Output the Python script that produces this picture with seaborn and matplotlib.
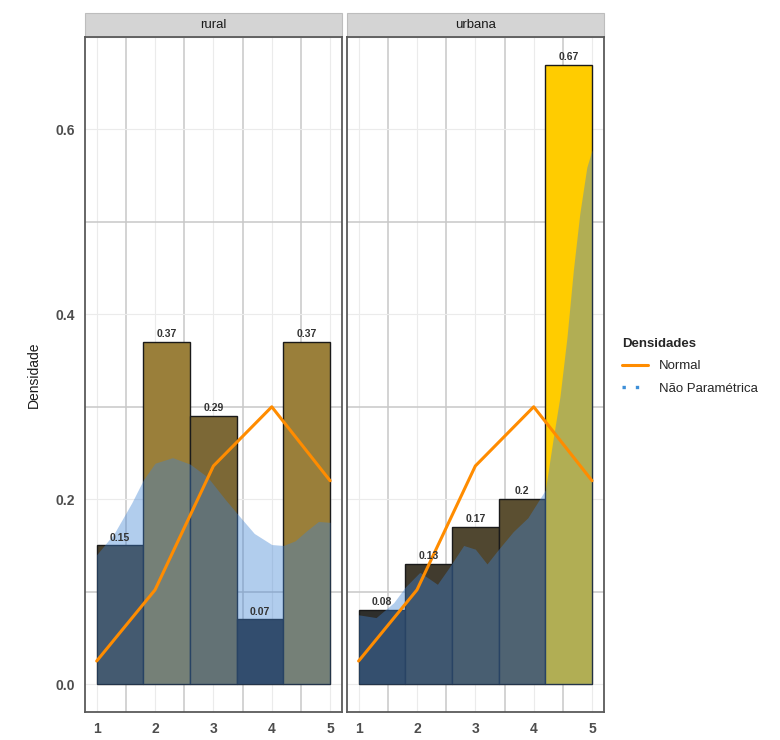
import numpy as np
import pandas as pd
import seaborn as sns
import matplotlib
matplotlib.use('Agg')
import matplotlib.pyplot as plt
from matplotlib.colors import LinearSegmentedColormap, Normalize
from matplotlib.patches import Rectangle
from matplotlib.lines import Line2D

# dados
zonas = ['rural', 'urbana']
bin_edges = [1.0, 1.8, 2.6, 3.4, 4.2, 5.0]
dens_rural = [0.15, 0.37, 0.29, 0.07, 0.37]
dens_urbana = [0.08, 0.13, 0.17, 0.20, 0.67]
rotulos_rural = ['0.15', '0.37', '0.29', '0.07', '0.37']
rotulos_urbana = ['0.08', '0.13', '0.17', '0.2', '0.67']

# densidade nao parametrica (kde) lida por pontos
kde_x_rural = [1.0, 1.3, 1.6, 1.8, 2.0, 2.3, 2.6, 2.9, 3.2, 3.4, 3.7, 4.0, 4.2, 4.4, 4.6, 4.8, 5.0]
kde_y_rural = [0.140, 0.163, 0.196, 0.221, 0.239, 0.245, 0.238, 0.224, 0.200, 0.185, 0.163, 0.151,
               0.150, 0.155, 0.166, 0.176, 0.175]
kde_x_urbana = [1.0, 1.3, 1.6, 1.8, 2.05, 2.35, 2.55, 2.8, 3.0, 3.2, 3.4, 3.65, 3.9, 4.2, 4.33,
                4.45, 4.57, 4.68, 4.79, 4.91, 5.0]
kde_y_urbana = [0.075, 0.072, 0.088, 0.105, 0.121, 0.108, 0.126, 0.150, 0.146, 0.130, 0.146,
                0.165, 0.180, 0.210, 0.264, 0.311, 0.375, 0.448, 0.509, 0.559, 0.578]

# densidade normal
normal_x = [1, 2, 3, 4, 5]
normal_y = [0.025, 0.102, 0.236, 0.300, 0.220]

edges = np.array(bin_edges)
centros = (edges[:-1] + edges[1:]) / 2
df = pd.DataFrame({
    'zona': ['rural'] * 5 + ['urbana'] * 5,
    'centro': list(centros) * 2,
    'densidade': dens_rural + dens_urbana,
    'rotulo': rotulos_rural + rotulos_urbana,
})
kdes = {'rural': (kde_x_rural, kde_y_rural), 'urbana': (kde_x_urbana, kde_y_urbana)}

cmap = LinearSegmentedColormap.from_list('dens', ['#2B2B2B', '#9A7F3A', '#FFCC00'])
norm = Normalize(vmin=0.07, vmax=0.67)


def desenha(data, color=None, **kws):
    ax = plt.gca()
    zona = data['zona'].iloc[0]
    n0 = len(ax.patches)
    sns.histplot(data=data, x='centro', weights='densidade', bins=bin_edges, stat='count',
                 ax=ax, edgecolor='#1A1A1A', linewidth=1.0, alpha=1)
    for patch, d in zip(ax.patches[n0:], data['densidade']):
        patch.set_facecolor(cmap(norm(d)))
        patch.set_zorder(2)
    kx, ky = kdes[zona]
    ax.fill_between(kx, ky, color='#3E82D4', alpha=0.4, lw=0, zorder=3)
    sns.lineplot(x=normal_x, y=normal_y, ax=ax, color='#FF8C00', lw=2.2, zorder=4)
    for c, d, r in zip(data['centro'], data['densidade'], data['rotulo']):
        ax.text(c, d + 0.003, r, ha='center', va='bottom', fontsize=7.5,
                fontweight='bold', color='#333333', zorder=5)


sns.set_style('white')
plt.rcParams['font.family'] = ['Liberation Sans', 'DejaVu Sans']

g = sns.FacetGrid(df, col='zona', col_order=zonas, sharey=True, despine=False)
g.map_dataframe(desenha)
fig = g.figure
fig.set_size_inches(7.8, 7.4)
fig.set_dpi(100)
fig.subplots_adjust(left=0.109, right=0.774, bottom=0.038, top=0.95, wspace=0.02)
g.set_titles('')

for ax, zona in zip(g.axes.flat, zonas):
    ax.set_xlim(0.8, 5.2)
    ax.set_ylim(-0.03, 0.70)
    ax.set_xticks([1, 2, 3, 4, 5])
    ax.set_xticks([1.5, 2.5, 3.5, 4.5], minor=True)
    ax.set_yticks([0.0, 0.2, 0.4, 0.6])
    ax.set_yticks([0.1, 0.3, 0.5], minor=True)
    ax.set_axisbelow(True)
    ax.grid(which='major', color='#EBEBEB', lw=0.8)
    ax.grid(which='minor', color='#C8C8C8', lw=1.1)
    ax.tick_params(which='minor', length=0)
    ax.tick_params(which='major', length=4, width=1.2, color='#333333',
                   labelsize=10, labelcolor='#4D4D4D', direction='out')
    for lab in ax.get_xticklabels() + ax.get_yticklabels():
        lab.set_fontweight('bold')
    for s in ax.spines.values():
        s.set_color('#5A5A5A')
        s.set_linewidth(1.3)
    ax.set_xlabel('')
    ax.set_ylabel('')
    ax.add_patch(Rectangle((0, 1.0), 1, 0.0356, transform=ax.transAxes, clip_on=False,
                           facecolor='#D4D4D4', edgecolor='#BDBDBD', lw=0.8))
    ax.text(0.5, 1.0178, zona, transform=ax.transAxes, ha='center', va='center',
            fontsize=9.5, color='#1A1A1A')

g.axes.flat[0].yaxis.set_major_formatter(plt.FormatStrFormatter('%.1f'))
g.axes.flat[0].set_ylabel('Densidade', fontsize=10, color='#1A1A1A', labelpad=10)

handles = [Line2D([], [], color='#FF8C00', lw=2.2),
           Line2D([], [], color='#3D8FD8', lw=2.4, linestyle=(0, (1, 3)))]
leg = fig.legend(handles, ['Normal', 'Não Paramétrica'], title='Densidades',
                 loc='center left', bbox_to_anchor=(0.782, 0.505), frameon=False,
                 fontsize=9.5, title_fontproperties={'weight': 'bold', 'size': 9.5},
                 handlelength=2.0, alignment='left', labelspacing=0.8)

fig.savefig('out.png', dpi=100, facecolor='white')
